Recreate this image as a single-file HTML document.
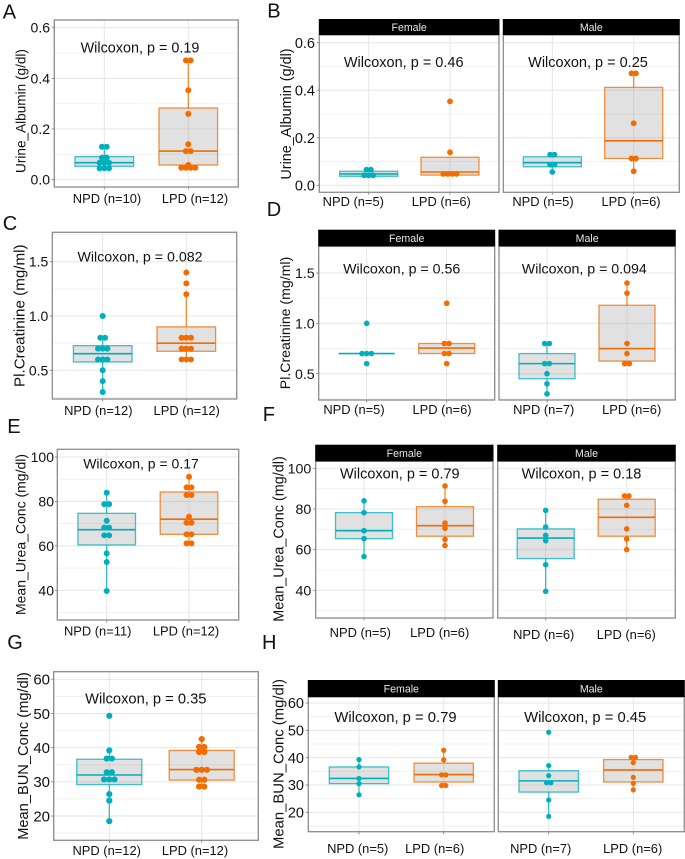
<!DOCTYPE html>
<html lang="en">
<head>
<meta charset="utf-8">
<title>Urine albumin, creatinine, urea and BUN by diet group</title>
<style>
html,body{margin:0;padding:0;background:#fff;}
#figure{display:block;width:685px;height:859px;}
text{font-family:"Liberation Sans",sans-serif;}
</style>
</head>
<body>
<svg id="figure" xmlns="http://www.w3.org/2000/svg" width="685" height="859" viewBox="0 0 685 859"></svg>
<script>
// ---------- Tick labels ----------
const albuminTicks = [0, 0.2, 0.4, 0.6];
const creatinineTicks = [0.5, 1.0, 1.5];
const ureaTicks = [40, 60, 80, 100];
const bunTicks = [20, 30, 40, 50, 60];

// ---------- Panel A: albumin, all animals ----------
const aNpdValues = [0.13, 0.13, 0.087, 0.087, 0.067, 0.067, 0.067, 0.045, 0.045, 0.045];
const aNpdBox = [0.045, 0.053, 0.067, 0.091, 0.13];
const aLpdValues = [0.471, 0.471, 0.353, 0.26, 0.14, 0.113, 0.113, 0.058, 0.047, 0.047, 0.047, 0.047];
const aLpdBox = [0.047, 0.058, 0.113, 0.283, 0.471];

// ---------- Panel B: albumin by sex ----------
const bFemaleNpdValues = [0.066, 0.066, 0.042, 0.042, 0.042];
const bFemaleNpdBox = [0.042, 0.038, 0.048, 0.059, 0.066];
const bFemaleLpdValues = [0.353, 0.139, 0.048, 0.048, 0.048, 0.048];
const bFemaleLpdBox = [0.048, 0.043, 0.056, 0.118, 0.118];
const bMaleNpdValues = [0.129, 0.129, 0.087, 0.087, 0.056];
const bMaleNpdBox = [0.056, 0.078, 0.095, 0.12, 0.129];
const bMaleLpdValues = [0.471, 0.471, 0.261, 0.113, 0.113, 0.059];
const bMaleLpdBox = [0.059, 0.113, 0.187, 0.412, 0.471];

// ---------- Panel C: creatinine, all animals ----------
const cNpdValues = [1.0, 0.8, 0.8, 0.7, 0.7, 0.7, 0.6, 0.6, 0.6, 0.5, 0.4, 0.3];
const cNpdBox = [0.3, 0.577, 0.653, 0.727, 0.8];
const cLpdValues = [1.4, 1.3, 1.2, 0.8, 0.8, 0.8, 0.7, 0.7, 0.7, 0.6, 0.6, 0.6];
const cLpdBox = [0.6, 0.675, 0.75, 0.9, 1.2];

// ---------- Panel D: creatinine by sex ----------
const dFemaleNpdValues = [1.0, 0.7, 0.7, 0.7, 0.6];
const dFemaleNpdBox = [0.7, 0.7, 0.7, 0.7, 0.7];
const dFemaleLpdValues = [1.2, 0.8, 0.8, 0.7, 0.7, 0.6];
const dFemaleLpdBox = [0.7, 0.7, 0.755, 0.8, 0.8];
const dMaleNpdValues = [0.8, 0.8, 0.6, 0.6, 0.5, 0.4, 0.3];
const dMaleNpdBox = [0.3, 0.45, 0.6, 0.7, 0.8];
const dMaleLpdValues = [1.4, 1.3, 0.8, 0.7, 0.6, 0.6];
const dMaleLpdBox = [0.6, 0.625, 0.75, 1.18, 1.4];

// ---------- Panel E: urea, all animals ----------
const eNpdValues = [83.9, 78.8, 78.8, 71.3, 68.2, 68.2, 64.75, 64.75, 56.6, 52.75, 39.7];
const eNpdBox = [39.7, 60.4, 67.3, 74.65, 83.9];
const eLpdValues = [91.1, 86.3, 86.3, 82.9, 82.9, 73.1, 70.4, 70.4, 65.2, 65.2, 61.1, 61.1];
const eLpdBox = [61.1, 65.2, 72, 84.25, 91.1];

// ---------- Panel F: urea by sex ----------
const fFemaleNpdValues = [84, 78.2, 69.3, 65.4, 56.6];
const fFemaleNpdBox = [56.6, 65.4, 69.3, 78.2, 84];
const fFemaleLpdValues = [91.3, 83.8, 73.1, 70.5, 65, 62];
const fFemaleLpdBox = [62, 66.6, 71.8, 81.1, 91.3];
const fMaleNpdValues = [79.3, 71.1, 67, 64.4, 52.6, 39.5];
const fMaleNpdBox = [39.5, 55.6, 65.7, 70.2, 79.3];
const fMaleLpdValues = [86.4, 86.4, 81.8, 70.2, 65.2, 60];
const fMaleLpdBox = [60, 66.6, 75.9, 84.8, 86.4];

// ---------- Panel G: BUN, all animals ----------
const gNpdValues = [49.3, 39.2, 36.8, 36.8, 32.8, 32.8, 30.7, 30.7, 30.7, 26.4, 24.5, 18.5];
const gNpdBox = [18.5, 29.2, 32, 36.6, 39.2];
const gLpdValues = [42.5, 40.2, 40.2, 38.7, 38.7, 33.5, 33.5, 33.5, 30.6, 30.6, 28.6, 28.6];
const gLpdBox = [28.6, 30.5, 33.6, 39.2, 42.5];

// ---------- Panel H: BUN by sex ----------
const hFemaleNpdValues = [39.3, 36.6, 32.4, 30.5, 26.4];
const hFemaleNpdBox = [26.4, 30.5, 32.4, 36.6, 39.3];
const hFemaleLpdValues = [42.7, 39.2, 33.7, 33.7, 29.8, 29.8];
const hFemaleLpdBox = [29.8, 31.1, 33.8, 38, 42.7];
const hMaleNpdValues = [49.3, 37.1, 33.4, 30.8, 30.8, 24.5, 18.5];
const hMaleNpdBox = [18.5, 27.4, 31.5, 35.2, 37.1];
const hMaleLpdValues = [40.1, 40.1, 38.2, 32.8, 30.6, 28.2];
const hMaleLpdBox = [28.2, 31.1, 35.5, 39.3, 40.1];

// ---------- Styling ----------
const TEAL = '#00AFBB';
const ORANGE = '#F36C00';
const BOX_FILL = '#808080';
const SVG_NS = 'http://www.w3.org/2000/svg';
const figure = document.getElementById('figure');

function shape(parent, tag, attrs, content) {
  const el = document.createElementNS(SVG_NS, tag);
  for (const key in attrs) el.setAttribute(key, attrs[key]);
  if (content !== undefined) el.textContent = content;
  parent.appendChild(el);
  return el;
}

// Maps a value to a pixel row from two calibrated tick positions.
function yAxis(ticks, firstPx, lastPx) {
  const v0 = ticks[0];
  const v1 = ticks[ticks.length - 1];
  return function (v) {
    return firstPx + (v - v0) * (lastPx - firstPx) / (v1 - v0);
  };
}

function drawGroup(g, facet, ax, r, gap) {
  const y = ax.y;
  const box = g.box;
  const wrap = shape(facet, 'g', {});
  
  

  const whiskerLow = shape(wrap, 'line', {x1: g.x, x2: g.x, y1: y(box[0]), y2: y(box[1]), stroke: g.color, 'stroke-width': 1.2, 'stroke-opacity': 0.85});
  
  

  const whiskerHigh = shape(wrap, 'line', {x1: g.x, x2: g.x, y1: y(box[3]), y2: y(box[4]), stroke: g.color, 'stroke-width': 1.2, 'stroke-opacity': 0.85});
  
  

  const rect = shape(wrap, 'rect', {x: g.x - g.half, width: 2 * g.half, y: y(box[3]), height: Math.max(0, y(box[1]) - y(box[3])), fill: BOX_FILL, 'fill-opacity': 0.24, stroke: g.color, 'stroke-width': 1.3, 'stroke-opacity': 0.75});
  
  

  const median = shape(wrap, 'line', {x1: g.x - g.half, x2: g.x + g.half, y1: y(box[2]), y2: y(box[2]), stroke: g.color, 'stroke-width': 1.6});
  
  

  const rows = new Map();
  g.values.forEach(function (v) {
    rows.set(v, (rows.get(v) || 0) + 1);
  });
  rows.forEach(function (count, v) {
    for (let i = 0; i < count; i++) {
      const dot = shape(wrap, 'circle', {cx: g.x + (i - (count - 1) / 2) * gap, cy: y(v), r: r, fill: g.color});
      
      
    }
  });

  const label = shape(facet, 'text', {x: g.labelX, y: ax.labelY, dy: '.35em', 'text-anchor': 'middle', 'font-size': 12.9, fill: '#111'}, g.label);
  
  

  const tick = shape(facet, 'line', {x1: g.x, x2: g.x, y1: ax.bottom, y2: ax.bottom + 2.5, stroke: '#777', 'stroke-width': 0.8});
  
  
}

function drawFacet(panel, f, p) {
  const facet = shape(panel, 'g', {});
  
  

  const bg = shape(facet, 'rect', {x: f.left, y: p.top, width: f.right - f.left, height: p.bottom - p.top, fill: '#fff'});
  
  

  const ticks = p.ticks;
  const step = ticks[1] - ticks[0];
  for (let i = -1; i < ticks.length; i++) {
    const mv = ticks[0] + (i + 0.5) * step;
    const my = p.y(mv);
    if (my > p.top && my < p.bottom) {
      const minor = shape(facet, 'line', {x1: f.left, x2: f.right, y1: my, y2: my, stroke: '#f1f1f1', 'stroke-width': 1});
      
      
    }
  }
  ticks.forEach(function (v) {
    const major = shape(facet, 'line', {x1: f.left, x2: f.right, y1: p.y(v), y2: p.y(v), stroke: '#e6e6e6', 'stroke-width': 1});
    
    
  });
  f.groups.forEach(function (g) {
    const vline = shape(facet, 'line', {x1: g.x, x2: g.x, y1: p.top, y2: p.bottom, stroke: '#e6e6e6', 'stroke-width': 1});
    
    
  });

  f.groups.forEach(function (g) {
    drawGroup(g, facet, {y: p.y, bottom: p.bottom, labelY: f.labelY || p.labelY}, p.r, p.gap);
  });

  const border = shape(facet, 'rect', {x: f.left, y: p.top, width: f.right - f.left, height: p.bottom - p.top, fill: 'none', stroke: '#8c8c8c', 'stroke-width': 1.3});
  
  

  if (f.strip) {
    const strip = shape(facet, 'rect', {x: f.left - 0.5, y: p.stripTop, width: f.right - f.left + 1, height: p.top - p.stripTop, fill: '#000'});
    
    
    const stripLabel = shape(facet, 'text', {x: (f.left + f.right) / 2, y: (p.stripTop + p.top) / 2, dy: '.36em', 'text-anchor': 'middle', 'font-size': 10.6, fill: '#e8e8e8'}, f.strip);
    
    
  }

  const stat = shape(facet, 'text', {x: f.statX, y: p.statY, dy: '.35em', 'text-anchor': 'middle', 'font-size': p.statSize, fill: '#111'}, f.stat);
  
  
}

function drawPanel(p) {
  const panel = shape(figure, 'g', {});
  
  

  const letter = shape(panel, 'text', {x: p.letterX, y: p.letterY, 'font-size': 20, fill: '#111'}, p.letter);
  
  

  const title = shape(panel, 'text', {x: p.titleX, y: p.titleY, dy: '.35em', 'text-anchor': 'middle', 'font-size': p.titleSize, fill: '#111', transform: 'rotate(-90 ' + p.titleX + ' ' + p.titleY + ')'}, p.title);
  
  

  p.facets.forEach(function (f) {
    drawFacet(panel, f, p);
  });

  const axisLeft = p.facets[0].left;
  p.ticks.forEach(function (v) {
    const tick = shape(panel, 'line', {x1: axisLeft - 2.5, x2: axisLeft, y1: p.y(v), y2: p.y(v), stroke: '#777', 'stroke-width': 0.8});
    
    
    const text = shape(panel, 'text', {x: p.tickEnd, y: p.y(v), dy: '.36em', 'text-anchor': 'end', 'font-size': p.tickSize, fill: '#111'}, v.toFixed(p.decimals));
    
    
  });
}

// Panel A
drawPanel({
  key: 'panel-a', letter: 'A', letterX: 2.7, letterY: 18.3,
  title: 'Urine_Albumin (g/dl)', titleX: 20.7, titleY: 111, titleSize: 13.6,
  ticks: albuminTicks, decimals: 1, y: yAxis(albuminTicks, 179.7, 27.7), tickEnd: 50, tickSize: 14,
  top: 20, bottom: 187, labelY: 198.3, statY: 47.7, statSize: 14.4, r: 3, gap: 4.7,
  facets: [{
    left: 54.3, right: 238.3, statX: 140, stat: 'Wilcoxon, p = 0.19',
    groups: [
      {key: 'a-npd', label: 'NPD (n=10)', x: 104.3, labelX: 107, half: 29.3, values: aNpdValues, box: aNpdBox, color: TEAL},
      {key: 'a-lpd', label: 'LPD (n=12)', x: 188.3, labelX: 195, half: 29.3, values: aLpdValues, box: aLpdBox, color: ORANGE}
    ]
  }]
});

// Panel B
drawPanel({
  key: 'panel-b', letter: 'B', letterX: 267.3, letterY: 17.3,
  title: 'Urine_Albumin (g/dl)', titleX: 286, titleY: 114, titleSize: 14.4,
  ticks: albuminTicks, decimals: 1, y: yAxis(albuminTicks, 185.3, 42.7), tickEnd: 315, tickSize: 14.5,
  stripTop: 19, top: 35, bottom: 192.3, labelY: 201.7, statY: 61.7, statSize: 14.5, r: 2.9, gap: 4.4,
  facets: [{
    left: 319.3, right: 499, strip: 'Female', statX: 403.7, stat: 'Wilcoxon, p = 0.46',
    groups: [
      {key: 'b-female-npd', label: 'NPD (n=5)', x: 368.7, labelX: 353.3, half: 29, values: bFemaleNpdValues, box: bFemaleNpdBox, color: TEAL},
      {key: 'b-female-lpd', label: 'LPD (n=6)', x: 450, labelX: 441.3, half: 29, values: bFemaleLpdValues, box: bFemaleLpdBox, color: ORANGE}
    ]
  }, {
    left: 503.3, right: 679.3, strip: 'Male', statX: 588, stat: 'Wilcoxon, p = 0.25',
    groups: [
      {key: 'b-male-npd', label: 'NPD (n=5)', x: 552.3, labelX: 543, half: 29, values: bMaleNpdValues, box: bMaleNpdBox, color: TEAL},
      {key: 'b-male-lpd', label: 'LPD (n=6)', x: 633.7, labelX: 631, half: 29, values: bMaleLpdValues, box: bMaleLpdBox, color: ORANGE}
    ]
  }]
});

// Panel C
drawPanel({
  key: 'panel-c', letter: 'C', letterX: 2.7, letterY: 230,
  title: 'Pl.Creatinine (mg/ml)', titleX: 19.3, titleY: 315.7, titleSize: 15.2,
  ticks: creatinineTicks, decimals: 1, y: yAxis(creatinineTicks, 370.3, 261.7), tickEnd: 48.3, tickSize: 14,
  top: 232.3, bottom: 399, labelY: 410.7, statY: 256.7, statSize: 14.2, r: 3, gap: 4.7,
  facets: [{
    left: 52.3, right: 236.7, statX: 140, stat: 'Wilcoxon, p = 0.082',
    groups: [
      {key: 'c-npd', label: 'NPD (n=12)', x: 102.7, labelX: 98.3, half: 29.3, values: cNpdValues, box: cNpdBox, color: TEAL},
      {key: 'c-lpd', label: 'LPD (n=12)', x: 186.3, labelX: 186.7, half: 29.3, values: cLpdValues, box: cLpdBox, color: ORANGE}
    ]
  }]
});

// Panel D
drawPanel({
  key: 'panel-d', letter: 'D', letterX: 266.7, letterY: 216,
  title: 'Pl.Creatinine (mg/ml)', titleX: 285, titleY: 323, titleSize: 14.1,
  ticks: creatinineTicks, decimals: 1, y: yAxis(creatinineTicks, 373.7, 273), tickEnd: 314.7, tickSize: 14.2,
  stripTop: 229.7, top: 246.3, bottom: 400, labelY: 409.7, statY: 268.3, statSize: 14.2, r: 2.8, gap: 4.7,
  facets: [{
    left: 318.7, right: 494.7, strip: 'Female', statX: 401.7, stat: 'Wilcoxon, p = 0.56',
    groups: [
      {key: 'd-female-npd', label: 'NPD (n=5)', x: 366.7, labelX: 354, half: 28, values: dFemaleNpdValues, box: dFemaleNpdBox, color: TEAL},
      {key: 'd-female-lpd', label: 'LPD (n=6)', x: 446.7, labelX: 442, half: 28, values: dFemaleLpdValues, box: dFemaleLpdBox, color: ORANGE}
    ]
  }, {
    left: 499, right: 675.3, strip: 'Male', statX: 584.3, stat: 'Wilcoxon, p = 0.094',
    groups: [
      {key: 'd-male-npd', label: 'NPD (n=7)', x: 547, labelX: 543.7, half: 28, values: dMaleNpdValues, box: dMaleNpdBox, color: TEAL},
      {key: 'd-male-lpd', label: 'LPD (n=6)', x: 627, labelX: 631.7, half: 28, values: dMaleLpdValues, box: dMaleLpdBox, color: ORANGE}
    ]
  }]
});

// Panel E
drawPanel({
  key: 'panel-e', letter: 'E', letterX: 7.3, letterY: 433,
  title: 'Mean_Urea_Conc (mg/dl)', titleX: 20.7, titleY: 534.5, titleSize: 14,
  ticks: ureaTicks, decimals: 0, y: yAxis(ureaTicks, 590.3, 457), tickEnd: 54, tickSize: 14,
  top: 449.3, bottom: 620, labelY: 631, statY: 463.7, statSize: 14, r: 3, gap: 4.9,
  facets: [{
    left: 57.3, right: 238.7, statX: 141, stat: 'Wilcoxon, p = 0.17',
    groups: [
      {key: 'e-npd', label: 'NPD (n=11)', x: 106.7, labelX: 97.7, half: 28.8, values: eNpdValues, box: eNpdBox, color: TEAL},
      {key: 'e-lpd', label: 'LPD (n=12)', x: 189, labelX: 186, half: 28.8, values: eLpdValues, box: eLpdBox, color: ORANGE}
    ]
  }]
});

// Panel F
drawPanel({
  key: 'panel-f', letter: 'F', letterX: 262.7, letterY: 421,
  title: 'Mean_Urea_Conc (mg/dl)', titleX: 278.3, titleY: 539, titleSize: 14.4,
  ticks: ureaTicks, decimals: 0, y: yAxis(ureaTicks, 590.3, 468.3), tickEnd: 311.3, tickSize: 14.2,
  stripTop: 444.7, top: 461.3, bottom: 618, labelY: 632.7, statY: 473.3, statSize: 14.5, r: 2.8, gap: 4.4,
  facets: [{
    left: 315.7, right: 493, strip: 'Female', statX: 399.8, stat: 'Wilcoxon, p = 0.79',
    groups: [
      {key: 'f-female-npd', label: 'NPD (n=5)', x: 364, labelX: 360.3, half: 28.5, values: fFemaleNpdValues, box: fFemaleNpdBox, color: TEAL},
      {key: 'f-female-lpd', label: 'LPD (n=6)', x: 445, labelX: 439.7, half: 28.5, values: fFemaleLpdValues, box: fFemaleLpdBox, color: ORANGE}
    ]
  }, {
    left: 497.7, right: 675.3, strip: 'Male', statX: 581.5, labelY: 634.3, stat: 'Wilcoxon, p = 0.18',
    groups: [
      {key: 'f-male-npd', label: 'NPD (n=6)', x: 545.7, labelX: 543.7, half: 28.5, values: fMaleNpdValues, box: fMaleNpdBox, color: TEAL},
      {key: 'f-male-lpd', label: 'LPD (n=6)', x: 626.7, labelX: 626.3, half: 28.5, values: fMaleLpdValues, box: fMaleLpdBox, color: ORANGE}
    ]
  }]
});

// Panel G
drawPanel({
  key: 'panel-g', letter: 'G', letterX: 7.3, letterY: 649,
  title: 'Mean_BUN_Conc (mg/dl)', titleX: 22.7, titleY: 756, titleSize: 14.65,
  ticks: bunTicks, decimals: 0, y: yAxis(bunTicks, 816, 679.3), tickEnd: 50, tickSize: 15,
  top: 671.7, bottom: 840.3, labelY: 850.7, statY: 698.3, statSize: 14.7, r: 3.1, gap: 5.2,
  facets: [{
    left: 53.7, right: 258.3, statX: 145.8, stat: 'Wilcoxon, p = 0.35',
    groups: [
      {key: 'g-npd', label: 'NPD (n=12)', x: 109.3, labelX: 106.7, half: 32.5, values: gNpdValues, box: gNpdBox, color: TEAL},
      {key: 'g-lpd', label: 'LPD (n=12)', x: 201.7, labelX: 195, half: 32.5, values: gLpdValues, box: gLpdBox, color: ORANGE}
    ]
  }]
});

// Panel H
drawPanel({
  key: 'panel-h', letter: 'H', letterX: 262, letterY: 649,
  title: 'Mean_BUN_Conc (mg/dl)', titleX: 278.3, titleY: 764, titleSize: 14.85,
  ticks: bunTicks, decimals: 0, y: yAxis(bunTicks, 812.3, 703), tickEnd: 304, tickSize: 14.5,
  stripTop: 680, top: 697, bottom: 831.7, labelY: 848.7, statY: 717, statSize: 14.8, r: 2.6, gap: 4.3,
  facets: [{
    left: 308.3, right: 494.3, strip: 'Female', statX: 395.5, stat: 'Wilcoxon, p = 0.79',
    groups: [
      {key: 'h-female-npd', label: 'NPD (n=5)', x: 359, labelX: 357.7, half: 29.7, values: hFemaleNpdValues, box: hFemaleNpdBox, color: TEAL},
      {key: 'h-female-lpd', label: 'LPD (n=6)', x: 443.7, labelX: 434.7, half: 29.7, values: hFemaleLpdValues, box: hFemaleLpdBox, color: ORANGE}
    ]
  }, {
    left: 498.3, right: 684.3, strip: 'Male', statX: 585.2, stat: 'Wilcoxon, p = 0.45',
    groups: [
      {key: 'h-male-npd', label: 'NPD (n=7)', x: 548.7, labelX: 540.7, half: 29.7, values: hMaleNpdValues, box: hMaleNpdBox, color: TEAL},
      {key: 'h-male-lpd', label: 'LPD (n=6)', x: 633.3, labelX: 632.7, half: 29.7, values: hMaleLpdValues, box: hMaleLpdBox, color: ORANGE}
    ]
  }]
});
</script>
</body>
</html>
